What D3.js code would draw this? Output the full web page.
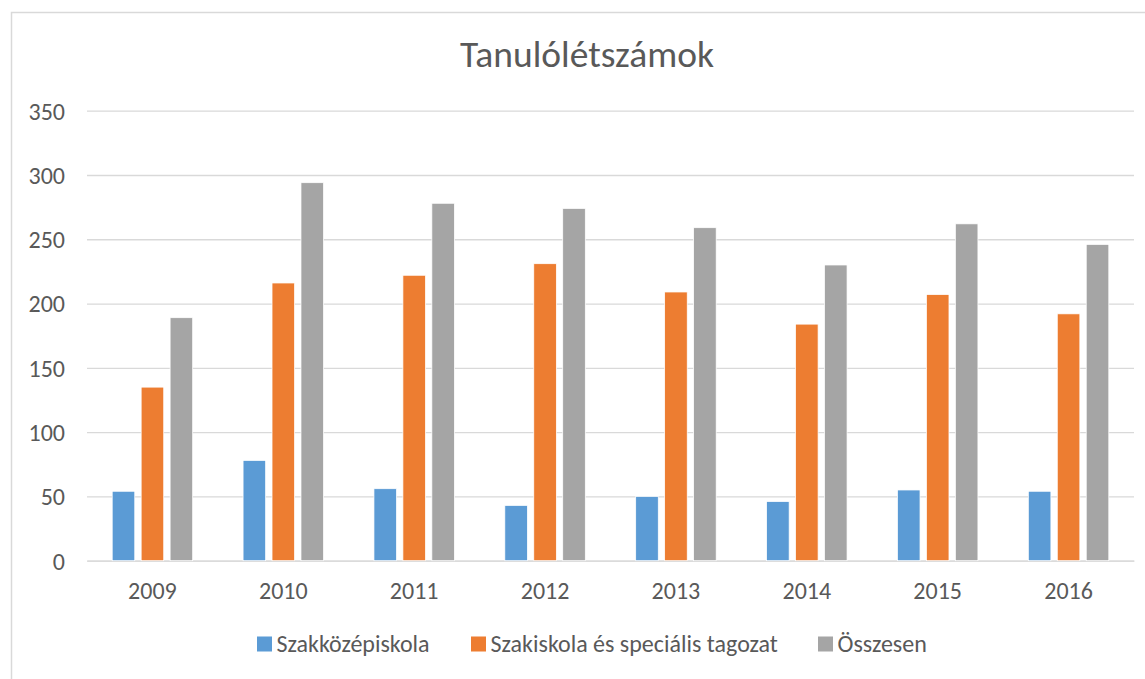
<!DOCTYPE html>
<html>
<head>
<meta charset="utf-8">
<script src="https://cdn.jsdelivr.net/npm/d3@7"></script>
<style>
  body { margin: 0; background: #fff; }
  text { font-family: Carlito, Lato, "Liberation Sans", sans-serif; fill: #595959; }
</style>
</head>
<body>
<div id="chart"></div>
<script>
'use strict';

// data
let years = ['2009', '2010', '2011', '2012', '2013', '2014', '2015', '2016'];
let series_names = ['Szakközépiskola', 'Szakiskola és speciális tagozat', 'Összesen'];
let szakkozep = [54, 78, 56, 43, 50, 46, 55, 54];
let szakiskola = [135, 216, 222, 231, 209, 184, 207, 192];
let osszesen = [189, 294, 278, 274, 259, 230, 262, 246];
let y_ticks = [0, 50, 100, 150, 200, 250, 300, 350];
let colours = ['#5b9bd5', '#ed7d31', '#a5a5a5'];

let width = 1145, height = 679;
let plot = {left: 87, right: 1134, top: 110.7, bottom: 560.7};

let svg = d3.select('#chart').append('svg')
    .attr('width', width)
    .attr('height', height);

// chart frame, runs off the right and bottom edge like the screenshot
svg.append('rect')
    .attr('x', 11.5).attr('y', 12.5)
    .attr('width', width + 20).attr('height', height + 20)
    .attr('fill', 'none')
    .attr('stroke', '#d9d9d9')
    .attr('stroke-width', 1.5);

svg.append('text')
    .attr('x', 587).attr('y', 67)
    .attr('text-anchor', 'middle')
    .style('font-size', '37.5px')
    .text('Tanulólétszámok');

let y = d3.scaleLinear().domain([0, 350]).range([plot.bottom, plot.top]);

let x0 = d3.scaleBand()
    .domain(years)
    .range([plot.left, plot.right])
    .paddingInner(0.385)
    .paddingOuter(0.1925);

let x1 = d3.scaleBand()
    .domain(series_names)
    .range([0, x0.bandwidth()])
    .paddingInner(0.22);

// gridlines + value labels
let yAxis = d3.axisLeft(y)
    .tickValues(y_ticks)
    .tickSize(-(plot.right - plot.left))
    .tickPadding(22);

let gy = svg.append('g')
    .attr('transform', 'translate(' + plot.left + ',0)')
    .call(yAxis);
gy.select('.domain').remove();
gy.selectAll('.tick line').attr('stroke', '#d9d9d9').attr('stroke-width', 1.3);
gy.selectAll('.tick text').style('font-size', '24px').attr('fill', '#595959').attr('dy', '0.35em');

let xAxis = d3.axisBottom(x0).tickSize(0).tickPadding(21);
let gx = svg.append('g')
    .attr('transform', 'translate(0,' + plot.bottom + ')')
    .call(xAxis);
gx.select('.domain').attr('stroke', '#d9d9d9').attr('stroke-width', 1.3);
gx.selectAll('.tick text').style('font-size', '24px').attr('fill', '#595959');

// bars
let all_series = [szakkozep, szakiskola, osszesen];
let rows = [];
years.forEach(function(yr, i) {
    series_names.forEach(function(s, j) {
        rows.push({year: yr, series: s, value: all_series[j][i], colour: colours[j]});
    });
});

svg.append('g').selectAll('rect')
    .data(rows)
    .enter().append('rect')
    .attr('x', function(d) { return x0(d.year) + x1(d.series); })
    .attr('y', function(d) { return y(d.value); })
    .attr('width', x1.bandwidth())
    .attr('height', function(d) { return y(0) - y(d.value); })
    .attr('fill', function(d) { return d.colour; })
    .attr('stroke', '#fff')
    .attr('stroke-width', 0.75);

// legend
let legend_x = [257, 471, 818];
let lg = svg.append('g').selectAll('g')
    .data(series_names)
    .enter().append('g')
    .attr('transform', function(d, i) { return 'translate(' + legend_x[i] + ',636.5)'; });
lg.append('rect')
    .attr('width', 15).attr('height', 15)
    .attr('fill', function(d, i) { return colours[i]; });
lg.append('text')
    .attr('x', 19.5).attr('y', 15.5)
    .style('font-size', '24px')
    .text(function(d) { return d; });
</script>
</body>
</html>
